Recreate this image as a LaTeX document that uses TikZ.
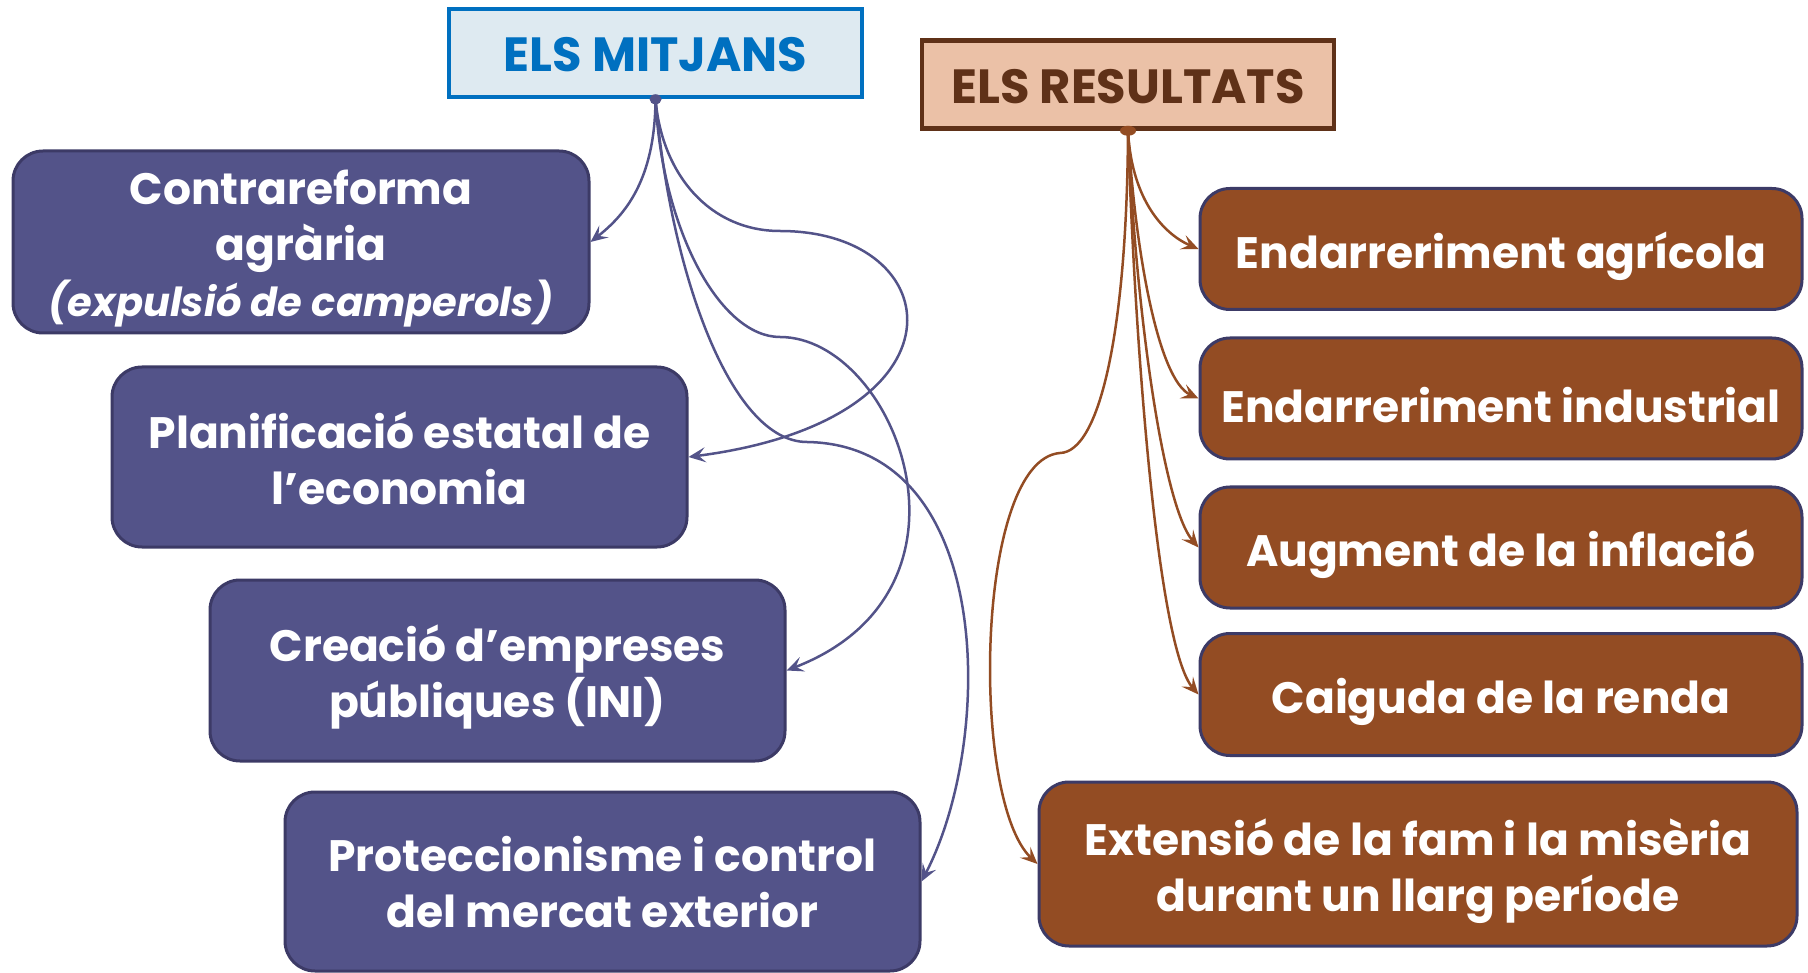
\documentclass[tikz,border=0pt]{standalone}
\usepackage{fontspec}
\setmainfont{Poppins}
\usetikzlibrary{arrows.meta}
\definecolor{purp}{HTML}{535389}
\definecolor{navyb}{HTML}{3C3A66}
\definecolor{brownf}{HTML}{934C23}
\definecolor{bluet}{HTML}{0070C0}
\definecolor{bluef}{HTML}{DEEAF1}
\definecolor{peachf}{HTML}{EBC1A7}
\definecolor{darkbr}{HTML}{5F3118}
\begin{document}
\begin{tikzpicture}[x=1pt,y=-1pt,
  titlebox/.style={rectangle, line width=4.5pt, inner sep=0pt, font=\bfseries\fontsize{48}{52}\selectfont},
  titletext/.style={inner sep=0pt, font=\bfseries\fontsize{48}{52}\selectfont, yshift=-2pt},
  mainbox/.style={rectangle, rounded corners=30pt, draw=navyb, line width=3pt, inner sep=0pt},
  boxtext/.style={text=white, align=center, inner sep=0pt, yshift=-7pt, font=\bfseries\fontsize{44}{56}\selectfont},
  boxtextb/.style={boxtext, yshift=6pt},
  purpbox/.style={mainbox, fill=purp},
  brownbox/.style={mainbox, fill=brownf},
  tip/.style={-{Stealth[length=17pt,width=15pt,inset=7pt]}},
  purpline/.style={tip, draw=purp, line width=2.5pt},
  brownline/.style={tip, draw=brownf, line width=2.5pt}]
\useasboundingbox (0,0) rectangle (1808,973);

% title boxes
\node[titlebox, fill=bluef, draw=bluet, minimum width=413pt, minimum height=88pt,
  label={[titletext, text=bluet]center:{ELS MITJANS}}] (mit) at (655.5,53) {};
\node[titlebox, fill=peachf, draw=darkbr, minimum width=412pt, minimum height=88pt,
  label={[titletext, text=darkbr]center:{ELS RESULTATS}}] (res) at (1128,84.5) {};

% purple boxes
\node[purpbox, minimum width=576pt, minimum height=182pt,
  label={[boxtext]center:{Contrareforma\\agrària\\{\itshape\fontsize{40}{56}\selectfont (expulsió de camperols)}}}] (contra) at (301,242) {};
\node[purpbox, minimum width=575pt, minimum height=180pt,
  label={[boxtextb]center:{Planificació estatal de\\l’economia}}] (planif) at (399.5,457) {};
\node[purpbox, minimum width=575pt, minimum height=181pt,
  label={[boxtext]center:{Creació d’empreses\\públiques (INI)}}] (creacio) at (497.5,670.5) {};
\node[purpbox, minimum width=635pt, minimum height=179pt,
  label={[boxtextb]center:{Proteccionisme i control\\del mercat exterior}}] (protec) at (602.5,881.5) {};

% brown boxes
\node[brownbox, minimum width=602pt, minimum height=121pt,
  label={[boxtext]center:{Endarreriment agrícola}}] (agr) at (1501,249) {};
\node[brownbox, minimum width=602pt, minimum height=121pt,
  label={[boxtext]center:{Endarreriment industrial}}] (ind) at (1501,398.5) {};
\node[brownbox, minimum width=602pt, minimum height=121pt,
  label={[boxtext]center:{Augment de la inflació}}] (aug) at (1501,547.5) {};
\node[brownbox, minimum width=602pt, minimum height=122pt,
  label={[boxtext]center:{Caiguda de la renda}}] (cai) at (1501,694.5) {};
\node[brownbox, minimum width=758pt, minimum height=164pt,
  label={[boxtext]center:{Extensió de la fam i la misèria\\durant un llarg període}}] (ext) at (1418,864) {};

% purple connectors
\draw[purpline] (mit.south) .. controls (655,180) and (625,215) .. (contra.east);
\draw[purpline] (mit.south) .. controls (662,175) and (710,231) .. (780,231)
   .. controls (950,231) and (975,420) .. (planif.east);
\draw[purpline] (mit.south) .. controls (662,230) and (720,337) .. (780,337)
   .. controls (895,337) and (995,590) .. (creacio.east);
\draw[purpline] (mit.south) .. controls (670,270) and (730,442) .. (807,442)
   .. controls (995,445) and (995,740) .. (protec.east);
\fill[purp] (mit.south) ellipse [x radius=6pt, y radius=5pt];

% brown connectors
\draw[brownline] (res.south) .. controls (1132,205) and (1168,236) .. (agr.west);
\draw[brownline] (res.south) .. controls (1135,250) and (1158,380) .. (ind.west);
\draw[brownline] (res.south) .. controls (1135,300) and (1162,505) .. (aug.west);
\draw[brownline] (res.south) .. controls (1135,350) and (1158,648) .. (cai.west);
\draw[brownline] (res.south) .. controls (1127,330) and (1100,452) .. (1060,453)
   .. controls (975,460) and (970,800) .. (ext.west);
\fill[brownf] (res.south) ellipse [x radius=8pt, y radius=5pt];
\end{tikzpicture}
\end{document}
